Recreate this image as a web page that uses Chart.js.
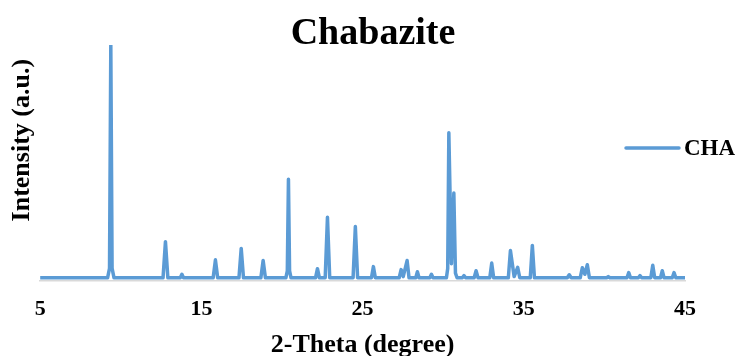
<!DOCTYPE html>
<html>
<head>
<meta charset="utf-8">
<script src="https://cdn.jsdelivr.net/npm/chart.js@4.4.0/dist/chart.umd.min.js"></script>
<style>
  html, body { margin: 0; padding: 0; background: #fff; }
  #wrap { width: 738px; height: 356px; }
</style>
</head>
<body>
<div id="wrap"><canvas id="xrd"></canvas></div>
<script>
// 2θ 位置 (degree) 與強度 (a.u.)
const twoTheta = [
  5, 9.18, 9.30, 9.38, 9.46, 9.58,
  12.62, 12.77, 12.92, 13.69, 13.79, 13.89,
  15.73, 15.87, 16.01, 17.33, 17.47, 17.61,
  18.69, 18.83, 18.97, 20.24, 20.33, 20.40, 20.47, 20.56,
  22.08, 22.20, 22.32, 22.68, 22.82, 22.96,
  24.41, 24.55, 24.69, 25.55, 25.67, 25.79,
  27.27, 27.39, 27.52, 27.76, 27.88, 28.30, 28.40, 28.50,
  29.17, 29.27, 29.37, 30.20, 30.28, 30.35, 30.51, 30.66, 30.76, 30.86,
  31.19, 31.29, 31.39, 31.92, 32.04, 32.16, 32.89, 33.01, 33.13,
  34.04, 34.17, 34.40, 34.62, 34.75, 35.40, 35.53, 35.66,
  37.70, 37.82, 37.94, 38.50, 38.63, 38.79, 38.94, 39.07,
  40.14, 40.24, 40.34, 41.40, 41.51, 41.62, 42.11, 42.21, 42.31,
  42.88, 43.00, 43.12, 43.48, 43.59, 43.70, 44.21, 44.32, 44.43, 45
];
const intensity = [
  0, 0, 4, 100, 4, 0,
  0, 15.5, 0, 0, 1.5, 0,
  0, 7.7, 0, 0, 12.6, 0,
  0, 7.4, 0, 0, 3, 42.3, 3, 0,
  0, 3.9, 0, 0, 26, 0,
  0, 22, 0, 0, 4.8, 0,
  0, 3.5, 0.5, 7.4, 0, 0, 2.6, 0,
  0, 1.5, 0, 0, 4, 62.3, 6, 36.4, 2, 0,
  0, 0.9, 0, 0, 3, 0, 0, 6.3, 0,
  0, 11.7, 0.5, 4.5, 0, 0, 13.9, 0,
  0, 1.3, 0, 0, 4.3, 1.5, 5.6, 0,
  0, 0.5, 0, 0, 2.2, 0, 0, 0.9, 0,
  0, 5.4, 0, 0, 3, 0, 0, 2.2, 0, 0
];
const xTicks = [5, 15, 25, 35, 45];
const chartTitle = 'Chabazite';

const serif = '"Liberation Serif", "Times New Roman", serif';
const lineColor = '#5b9bd5';

// 標題與圖例自己畫：標題不在畫布正中，圖例在繪圖區右邊重疊區
const titleAndLegend = {
  id: 'titleAndLegend',
  afterDraw(chart) {
    const ctx = chart.ctx;
    const ds = chart.data.datasets[0];
    ctx.save();
    ctx.fillStyle = '#000';
    ctx.font = 'bold 38px ' + serif;
    ctx.textAlign = 'center';
    ctx.textBaseline = 'middle';
    ctx.fillText(chartTitle, 373, 34);

    ctx.strokeStyle = ds.borderColor;
    ctx.lineWidth = 3.5;
    ctx.lineCap = 'round';
    ctx.beginPath();
    ctx.moveTo(626, 148);
    ctx.lineTo(679, 148);
    ctx.stroke();
    ctx.font = 'bold 23px ' + serif;
    ctx.textAlign = 'left';
    ctx.fillText(ds.label, 684, 149);
    ctx.restore();
  }
};

new Chart(document.getElementById('xrd'), {
  type: 'line',
  data: {
    datasets: [{
      label: 'CHA',
      data: twoTheta.map((t, i) => ({ x: t, y: intensity[i] })),
      borderColor: lineColor,
      borderWidth: 3.5,
      borderJoinStyle: 'round',
      borderCapStyle: 'round',
      pointRadius: 0,
      tension: 0,
      fill: false
    }]
  },
  options: {
    responsive: true,
    maintainAspectRatio: false,
    animation: false,
    layout: { padding: { left: 3, right: 53, top: 45, bottom: 0 } },
    plugins: {
      legend: { display: false },
      tooltip: { enabled: false },
      title: { display: false }
    },
    scales: {
      x: {
        type: 'linear',
        min: 5,
        max: 45,
        afterBuildTicks: axis => { axis.ticks = xTicks.map(v => ({ value: v })); },
        grid: { display: false, drawTicks: false },
        border: { display: true, color: '#d9d9d9', width: 1.5 },
        ticks: {
          color: '#000',
          font: { family: serif, size: 22, weight: 'bold' },
          padding: 15,
          maxRotation: 0
        },
        title: {
          display: true,
          text: '2-Theta (degree)',
          color: '#000',
          font: { family: serif, size: 26, weight: 'bold' },
          padding: { top: -7.4, bottom: -5 }
        }
      },
      y: {
        min: -1.3,
        max: 100,
        grid: { display: false, drawTicks: false },
        border: { display: false },
        ticks: { display: false },
        title: {
          display: true,
          text: '\u00a0\u00a0\u00a0\u00a0\u00a0\u00a0\u00a0Intensity (a.u.)',
          color: '#000',
          font: { family: serif, size: 26, weight: 'bold' },
          padding: { top: 4, bottom: 2 }
        }
      }
    }
  },
  plugins: [titleAndLegend]
});
</script>
</body>
</html>
